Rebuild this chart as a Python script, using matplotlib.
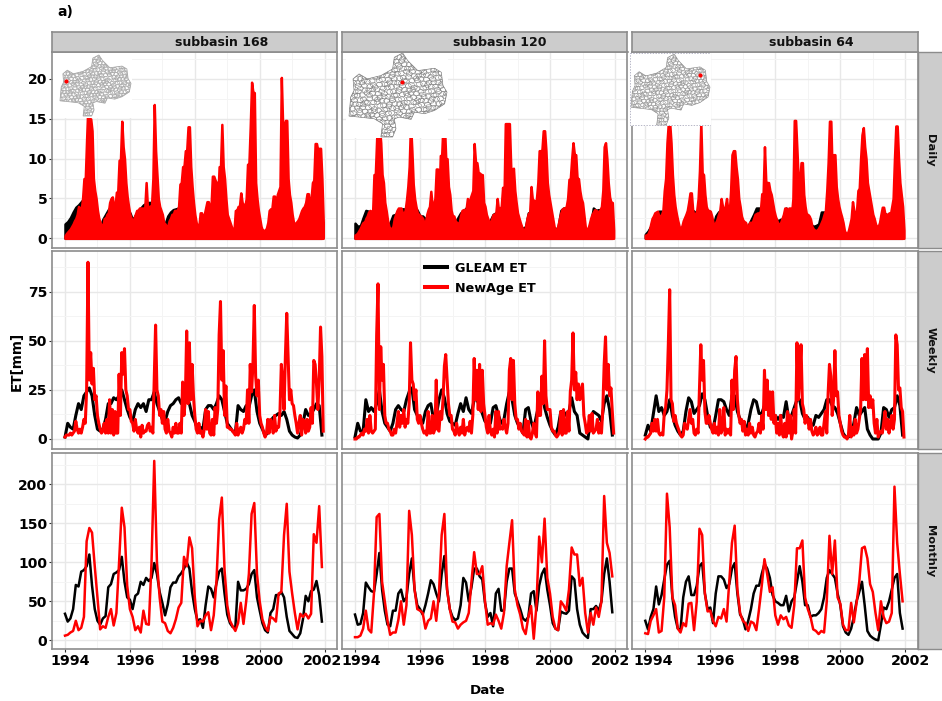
import numpy as np
import matplotlib
matplotlib.use("Agg")
import matplotlib.pyplot as plt
from matplotlib.patches import Polygon, Rectangle
from matplotlib.collections import LineCollection
from matplotlib.lines import Line2D
from matplotlib.transforms import ScaledTranslation

plt.rcParams['font.family'] = 'DejaVu Sans'
plt.rcParams['font.weight'] = 'bold'

BLACK, RED = '#000000', '#ff0000'
subbasins = ['subbasin 168', 'subbasin 120', 'subbasin 64']
scales = ['Daily', 'Weekly', 'Monthly']
year_ticks = [1994, 1996, 1998, 2000, 2002]
yticks_daily = [0, 5, 10, 15, 20]
yticks_weekly = [0, 25, 50, 75]
yticks_monthly = [0, 50, 100, 150, 200]

# ------------- Monthly ET (mm), Jan 1994 .. Dec 2001 -------------
m168_gleam = [34,24,28,40,71,69,88,90,95,110,70,40, 25,20,28,31,68,72,85,87,90,107,75,55,
              52,40,57,60,75,71,80,76,80,99,85,62, 48,32,46,68,74,74,82,86,92,100,92,62,
              40,25,27,16,45,69,66,55,73,88,92,60, 33,22,17,17,75,64,64,66,72,85,90,55,
              38,22,13,10,35,40,58,58,62,55,30,12, 8,4,3,9,27,57,50,63,65,76,58,24]
m168_newage = [6,7,10,12,25,13,16,30,127,144,138,95, 55,14,18,16,30,40,19,35,100,170,145,70,
               40,30,13,18,10,38,21,20,100,230,100,55, 24,22,12,9,16,27,42,48,107,95,132,118,
               55,18,25,24,32,36,13,32,75,155,183,90, 45,25,18,12,22,48,21,50,85,162,176,85,
               50,27,17,12,30,28,24,60,62,135,175,88, 60,35,14,34,30,34,28,34,136,125,172,94]
m120_gleam = [33,20,21,35,74,68,63,62,85,112,65,38, 20,18,38,38,60,65,50,55,85,105,65,45,
              40,33,45,60,77,72,60,50,85,108,65,40, 30,26,28,45,80,74,50,68,92,92,82,78,
              48,30,35,18,60,66,38,38,75,92,92,60, 50,40,28,25,30,60,63,38,70,85,92,65,
              45,22,15,13,37,35,34,38,82,78,40,20, 10,6,3,40,40,44,38,50,85,105,75,36]
m120_newage = [4,4,6,15,38,14,10,60,158,162,75,50, 25,7,10,10,26,50,20,45,166,135,65,40,
               38,35,15,25,28,50,25,60,135,162,65,40, 24,23,15,20,23,25,35,75,113,85,85,95,
               50,20,22,20,33,25,15,35,95,125,154,65, 45,33,15,8,30,44,2,45,133,100,156,80,
               60,30,15,13,50,45,38,65,119,110,110,70, 80,35,10,35,20,42,30,50,185,125,112,82]
m64_gleam = [25,14,30,40,69,46,58,78,97,102,55,30, 15,13,55,75,82,58,58,70,95,99,60,40,
             42,22,60,82,82,78,67,72,92,99,60,33, 27,14,25,40,60,70,70,85,98,92,80,58,
             50,48,45,45,57,37,50,55,75,95,75,45, 45,30,32,32,35,40,55,80,90,85,80,60,
             45,18,10,7,15,30,50,62,75,45,12,6, 3,1,0,20,42,40,50,65,80,85,35,15]
m64_newage = [9,8,25,32,40,10,12,55,188,145,55,45, 15,10,22,18,47,48,13,50,143,135,60,37,
              38,25,18,30,28,40,24,75,125,147,65,35, 25,22,12,24,22,13,40,70,104,85,62,68,
              32,20,32,27,30,19,16,45,118,118,128,55, 40,30,14,12,8,12,10,50,134,85,128,55,
              47,20,13,13,48,23,48,75,118,120,105,72, 62,35,13,50,30,22,24,35,197,125,85,50]

# ------------- Weekly ET (mm), read at half-month steps for NewAge, monthly for GLEAM -------------
w168_newage = [1,2,2,2,3,2,3,4,9,5,3,5,3,6,10,8,25,90,30,44,28,36,20,22,
               12,8,5,3,4,8,3,10,3,20,3,15,2,14,3,3,33,12,44,33,46,25,22,15,
               15,9,8,4,10,5,3,6,1,7,3,4,4,7,8,4,6,3,30,58,25,22,12,15,
               8,14,5,3,10,4,3,1,6,3,8,3,3,8,3,29,12,20,55,18,49,20,38,22,
               12,5,3,8,3,4,1,5,15,5,14,3,2,10,2,16,8,15,53,70,30,45,12,27,
               6,6,5,5,4,3,2,8,2,4,6,3,5,10,8,25,8,38,24,38,68,32,22,30,
               12,8,6,3,1,3,10,3,10,8,3,12,4,6,6,14,38,30,15,42,64,42,20,25,
               18,17,12,8,3,8,12,2,10,9,3,10,4,6,16,8,40,38,28,15,30,57,42,4]
w168_gleam = [1,8,6,5,12,18,15,22,24,26,22,12, 5,4,5,10,18,18,21,20,22,25,20,15,
              11,9,15,18,16,18,14,20,20,24,18,14, 10,9,14,17,18,20,21,18,20,22,18,12,
              9,5,6,5,15,17,17,15,18,22,20,14, 8,6,4,3,17,15,14,17,16,22,25,14,
              8,5,2,3,9,11,12,13,12,14,10,4, 2,1,0.5,2,8,15,12,13,15,18,17,2]
w120_newage = [0,0,1,1,2,3,2,5,4,10,3,12,4,3,4,5,53,79,15,47,30,38,12,8,
               8,5,4,2,2,5,3,8,14,6,12,8,15,6,10,8,18,49,30,28,20,25,10,8,
               12,8,5,3,4,2,14,3,3,12,3,5,30,5,4,14,10,20,37,43,30,18,12,12,
               5,4,2,8,4,2,6,3,10,2,5,6,4,9,3,12,41,20,35,15,38,14,35,18,
               12,6,3,12,4,2,5,1,14,3,14,5,6,5,10,6,3,8,35,41,20,40,18,10,
               10,5,8,4,3,2,10,1,9,1,0,3,8,3,1,24,12,12,32,18,50,22,15,15,
               15,6,4,4,2,1,2,4,14,2,15,3,3,14,4,24,30,54,25,34,20,28,20,25,
               28,12,8,3,4,12,4,13,3,4,5,10,3,8,3,15,38,52,25,38,22,26,14,3]
w120_gleam = [1,8,4,4,20,14,16,14,18,25,14,8, 6,4,8,15,17,15,14,20,24,26,15,12,
              10,8,14,17,18,10,12,20,25,21,13,9, 8,7,13,18,14,21,15,13,20,20,17,13,
              9,8,8,16,17,12,8,10,18,24,20,12, 8,6,3,15,16,9,5,12,18,25,16,11,
              7,4,2,6,14,14,12,14,21,14,12,3, 2,1,0,10,14,13,12,9,18,22,15,2]
w64_newage = [0,1,1,2,3,8,4,10,4,10,3,2,3,2,13,16,25,48,76,20,18,9,12,8,
              6,4,2,1,2,8,6,5,10,15,8,10,3,2,5,3,25,48,30,40,14,8,8,12,
              8,5,3,8,3,6,2,15,3,5,16,2,5,3,5,2,30,15,35,42,20,12,8,10,
              4,9,2,5,2,8,3,6,2,1,3,4,8,3,12,5,35,15,30,12,24,10,24,8,
              12,3,8,2,12,3,1,8,1,14,3,12,0,4,15,3,49,20,32,48,18,15,8,12,
              10,5,10,4,2,3,6,2,3,6,2,2,8,14,3,23,38,32,12,20,45,22,24,12,
              8,4,2,1,1,0,2,12,1,6,2,10,3,5,10,15,41,20,43,20,46,16,22,16,
              20,8,3,10,1,3,4,3,8,14,5,10,3,8,12,5,10,53,48,25,26,16,14,1]
w64_gleam = [2,7,4,13,22,14,16,12,14,20,12,7, 4,2,4,14,21,19,13,15,17,23,20,12,
             6,5,12,20,20,19,15,12,22,22,14,10, 8,4,8,15,20,19,13,13,17,18,15,12,
             12,10,12,11,19,10,12,16,20,20,13,10, 11,8,7,12,11,13,15,20,20,17,16,13,
             8,3,1,1,3,8,16,12,14,16,5,2, 0,0,0,3,16,15,11,15,16,22,17,2]

# ------------- Daily ET (mm/day), upper envelope of the dense daily traces -------------
d168_newage = [.3,.6,.8,1,1.2,1.5,1.8,2.2,2.5,3,4,3.8,3.6,5,7.5,7.5,12.5,17,15,15,13.5,7.5,6,5,
               3.5,2.5,2,1.5,1.5,2.5,2.5,3,3.2,4.5,5,5.2,4,4,5.8,5.8,9.8,9.8,14.7,11.5,10,7,5.2,4,
               3,2.5,2,2.5,3,3.5,3.5,3.8,3.8,3.8,3.8,3.8,7,3.8,4,4,4.2,7.5,16.8,11,8,5,4,3.5,
               3,2,1.8,1.5,1.5,2.2,2.5,3,3,3.5,3.5,3.5,4,6.8,7,9,9,11,11,14,14,9,6.5,4.5,
               3,2,1.5,1.5,3.2,3.2,2.5,3,3.8,4.6,4.6,3.8,4,7.8,7.8,7.3,7,5,9,9,14.3,9,7.5,5,
               3,2.5,2,1.5,1,1,3.5,3.5,4,4,5.7,4.5,4.2,4,5,9.3,9.3,14,19.6,18.3,18.3,7,5,3.5,
               2.5,1.5,1,1,1,1.3,2,3.5,3.7,3.7,5.3,5.3,3.5,5.5,6,6.5,20.2,14,14,14.8,14.8,7.5,5.5,4.5,
               3,2,1.8,2,2.2,2.5,3,3.5,3.8,4,4.5,5.6,5.6,3.8,5,7,7.3,11.9,11.9,11,11.3,11.3,7.5,2]
d168_gleam = [1.8,2.1,2.6,3.3,3.9,4.2,4.6,5,5,5,5,4, 1.6,1.4,2.4,3,3.6,4,4,4,5,5,4,3.5,
              3.2,2.3,2.9,3.5,3.8,4.2,4.4,4.5,4.5,5,4,3, 2,1.8,2.8,3.3,3.6,3.7,3.8,4,4.5,4.5,4,3,
              2,1.5,1.5,1.2,3,3.5,3.2,3,3.5,5,4,3, 1.8,1.2,1,1,3.4,3.3,3.2,3.3,3.5,5,5,3,
              1.5,1,.8,1,3,3.5,3.6,3.4,3.5,4,2,.8, .8,.6,.5,.8,2,3.4,3.6,3.5,3.5,3.6,3.6,2.2]
d120_newage = [.4,.5,.7,1,1.3,1.7,2,2,2.5,2.8,3.3,3.5,3.4,3.2,8,8,12.5,14,14,12,8,7,4.5,3.5,
               2.3,1.5,1.2,1.2,1.5,2.5,3,3.5,3.8,3.8,3.8,3.2,3,3.5,4.8,6.5,9,14.5,11,6.8,5,4,3.2,3,
               2.9,2.7,2.5,1.8,2,3,3.6,4,5.9,4,4.2,5,8.7,8.7,5,10.4,10.4,14.5,14.5,10,10,6.5,5.5,3.5,
               2.8,2.8,2.2,2,1.9,2,2.9,3.5,3.6,3.6,3.6,5,3.8,5,5.5,6,11.9,9.5,9.5,8.2,8.2,8,8,4.5,
               4,3,2.5,2,2,2.5,3,3,3.2,5,3.5,3.8,4,6.4,4.8,14.4,14.4,14.4,14.4,9,8,8.8,6,4.5,
               3.2,2.6,2,1.5,1,1,1.5,2.5,3.1,3.3,6.5,4.8,4.8,4,5,7,11,11,11,13.5,13.5,11,7,5.5,
               4.5,3.5,2.5,1.5,1,1,1.7,2.5,3.2,3.7,3.8,3.8,4,5,7.4,7.5,10,12,10.5,10.5,7.5,7.5,6,5,
               4.5,3,1.5,1,1.2,1.8,2.5,3,3.3,3.6,3.5,3.4,3.3,3.6,4,6,11.5,12,10,7,5.2,4.5,4.5,1]
d120_gleam = [1.9,1.5,1.6,2.6,3.5,3.4,3,3.3,3.5,4,4,3, 1.5,2,2.9,3,3.5,3.7,3.7,3.5,4,4,4,3.5,
              2.8,2.8,2.4,3,3.5,3.6,3.6,3.6,4,4,4,3.2, 2.8,2,2.6,3.2,3.4,3.8,3.8,3.6,3.8,4,3.8,3.2,
              2.4,2,2.3,3,3.2,3.4,3.3,3.3,3.5,4,3.6,3, 2,1.6,1.2,1.5,3.2,3.2,3,3,3.5,3.5,3.5,3,
              2,1.5,1,1.5,3.5,3.8,3.8,3.8,4,4,3.5,2.5, 1,.3,.3,1.8,3.8,3.5,3.6,3.4,3.5,3.8,3.6,1]
d64_newage = [.4,.4,.6,1,1.8,2.5,2.8,3.2,3.3,3.4,2.8,2.8,3,3.5,6,7.5,12,14.5,14.5,12,8,5.5,4,3,
              2.2,1.5,1.2,1.5,2.2,2.6,3,3.5,4.5,5.7,5.7,3.5,2.8,3,3.5,5,8.5,14.5,8.2,8,5.5,4,3.5,3.5,
              3.4,2.8,2,1.5,2,2.4,3,3.5,5,4,3.5,4,5,3.4,3.2,6,10.5,11,11,9,7.5,5,4,2.8,
              2.3,2.1,2,1.5,1.5,2,2,2,2.5,3,3.1,3.2,3,3.5,5.6,5.6,11.5,7,7,7,6,5.5,4.5,3.5,
              2.8,2.3,1.8,1.8,2,2.5,3,3.8,3.8,3,3.8,3.8,3,5,14.8,14.8,11,7,7,9.5,9.5,5.5,4,3,
              3,2.8,2.4,1.5,1.2,1,1,1,1.3,1.6,2,2.4,3,3.5,6,9.5,14.7,14.7,8,10.5,10.5,6.5,5,4,
              3.3,2.7,2,1,.6,.5,1,1.7,2.5,4.6,3.5,3,3.5,6,6.3,10,13,13.9,11.5,10,7,6,5,4,
              3,2.5,1.8,1.4,1.5,2,3,3.9,3.9,3,3,3,3.2,3,4,5,10,14.1,14.1,10,7,5.5,4,1]
d64_gleam = [.5,.9,1.5,2.5,3.2,3.4,3.4,3.2,3,3,3,2.5, 1,1,1.8,2.8,3.6,3.6,3.4,3,3.2,4,3.5,3,
             2,1.5,2.8,3.3,3.6,3.4,3.4,3.2,3.5,4,3,2.5, 1.9,1.5,1.6,2.3,3,3.8,3.8,3.4,3.2,3.5,3.2,2.7,
             2.5,2.2,2.4,2.4,3.8,3,3,3,3.5,4,3,2.5, 2.5,1.8,1.5,1.6,1.8,3.3,3.3,2.8,3.2,3.5,3,2.5,
             2,1,.6,.3,1,1.8,2.8,3,3.6,3.5,2,.3, .2,.1,.1,.8,3.2,3,2.6,3,3.3,3.5,3,.9]

series = {
    (0, 0): (d168_gleam, d168_newage), (0, 1): (d120_gleam, d120_newage), (0, 2): (d64_gleam, d64_newage),
    (1, 0): (w168_gleam, w168_newage), (1, 1): (w120_gleam, w120_newage), (1, 2): (w64_gleam, w64_newage),
    (2, 0): (m168_gleam, m168_newage), (2, 1): (m120_gleam, m120_newage), (2, 2): (m64_gleam, m64_newage),
}

# Map outline of the catchment for the insets
map_x = [165,190,205,235,285,305,310,322,315,285,255,225,215,180,165,170,160,125,130,105,60,30,35,45,42,60,85,125,160]
map_y = [85,72,95,125,118,130,170,190,225,245,255,250,272,265,270,300,325,325,285,270,265,262,205,185,150,135,150,140,120]

# ------------- layout in pixels -------------
W, H = 942, 701
fig = plt.figure(figsize=(W / 100, H / 100), dpi=100, facecolor='white')

def add_px(x0, y0, x1, y1, **kw):
    return fig.add_axes([x0 / W, 1 - y1 / H, (x1 - x0) / W, (y1 - y0) / H], **kw)

col_px = [(52, 337), (341.5, 627.5), (632, 918)]
row_px = [(52, 248), (251.5, 449), (452.5, 649)]
x_ref = [(65, 324.6), (355, 615), (645.3, 905.3)]
y_ref = [(238.3, 0, 79, 20), (439, 0, 291.7, 75), (640.3, 0, 484.3, 200)]
yticks = [yticks_daily, yticks_weekly, yticks_monthly]
xlabel_shift = [[5, 5, 5, 5, -2], [6, 5, 5, 4, -4], [8, 5, 5, 5, 5]]
strip_center = [222, 500, 811]
BORDER = '#8c8c8c'
GRID, GRIDM = '#e8e8e8', '#f4f4f4'

def to_data(px, p0, v0, p1, v1):
    return v0 + (px - p0) * (v1 - v0) / (p1 - p0)

axes = {}
for r, (ry0, ry1) in enumerate(row_px):
    for c, (cx0, cx1) in enumerate(col_px):
        ax = add_px(cx0, ry0, cx1, ry1)
        axes[r, c] = ax
        ax.set_facecolor('white')
        p0, p1 = x_ref[c]
        ax.set_xlim(to_data(cx0, p0, 1994, p1, 2002), to_data(cx1, p0, 1994, p1, 2002))
        a, va, b, vb = y_ref[r]
        ax.set_ylim(to_data(ry1, a, va, b, vb), to_data(ry0, a, va, b, vb))
        ax.set_xticks(year_ticks)
        ax.set_yticks(yticks[r])
        ax.set_xticks([1995, 1997, 1999, 2001], minor=True)
        step = yticks[r][1] - yticks[r][0]
        minors = [t + step / 2 for t in yticks[r]]
        ax.set_yticks([t for t in minors if t < ax.get_ylim()[1]], minor=True)
        ax.grid(True, which='major', color=GRID, lw=1.0, zorder=0)
        ax.grid(True, which='minor', color=GRIDM, lw=0.7, zorder=0)
        ax.set_axisbelow(True)
        ax.tick_params(which='minor', length=0)
        ax.tick_params(which='major', length=2, width=0.8, color='#333333', pad=1.5,
                       left=(c == 0), labelleft=(c == 0), bottom=(r == 2), labelbottom=(r == 2))
        ax.tick_params(axis='x', labelsize=10.3)
        ax.tick_params(axis='y', labelsize=10)
        if r == 2:
            for lab, dx in zip(ax.get_xticklabels(), xlabel_shift[c]):
                lab.set_transform(lab.get_transform() + ScaledTranslation(dx / 100, 0, fig.dpi_scale_trans))
        for s in ax.spines.values():
            s.set_color(BORDER)
            s.set_linewidth(1.2)

        gleam, newage = series[r, c]
        tg = 1994 + np.arange(len(gleam)) * 8 / len(gleam)
        tn = 1994 + np.arange(len(newage)) * 8 / len(newage)
        if r == 0:
            ax.fill_between(tg, 0, gleam, color=BLACK, lw=1.8, zorder=2)
            ax.fill_between(tn, 0, newage, color=RED, lw=1.8, zorder=3)
        else:
            lw = 2.2 if r == 1 else 1.8
            ax.plot(tg, gleam, color=BLACK, lw=lw, zorder=2, solid_joinstyle='round')
            ax.plot(tn, newage, color=RED, lw=lw, zorder=3, solid_joinstyle='round')

# strips
for c, (cx0, cx1) in enumerate(col_px):
    s = add_px(cx0, 32, cx1, 52)
    s.set_facecolor('#cccccc')
    s.set_xticks([]); s.set_yticks([])
    for sp in s.spines.values():
        sp.set_color(BORDER); sp.set_linewidth(1.2)
    fig.text(strip_center[c] / W, 1 - 42.5 / H, subbasins[c], ha='center', va='center',
             fontsize=9.0, fontweight='bold', color='#111111')
for r, (ry0, ry1) in enumerate(row_px):
    s = add_px(918, ry0, 943, ry1)
    s.set_facecolor('#cccccc')
    s.set_xticks([]); s.set_yticks([])
    for sp in s.spines.values():
        sp.set_color(BORDER); sp.set_linewidth(1.0)
    s.text(0.5, 0.5, scales[r], transform=s.transAxes, ha='center', va='center', rotation=-90,
           fontsize=8.2, fontweight='bold', color='#111111')

# legend
handles = [Line2D([], [], color=BLACK, lw=2.9), Line2D([], [], color=RED, lw=2.9)]
leg = axes[1, 1].legend(handles, ['GLEAM ET', 'NewAge ET'], loc='upper center',
                        bbox_to_anchor=(0.485, 1.0), frameon=False, fontsize=9.2,
                        handlelength=1.75, handletextpad=0.6, labelspacing=0.55, borderaxespad=0.4)
leg.set_zorder(10)

fig.text(57 / W, 1 - 12 / H, 'a)', fontsize=10, fontweight='bold', ha='left', va='center')
fig.text(17 / W, 1 - 361 / H, 'ET[mm]', fontsize=9.8, fontweight='bold', rotation=90, ha='center', va='center')
fig.text(488 / W, 1 - 691 / H, 'Date', fontsize=9.6, fontweight='bold', ha='center', va='center')

# map insets
def draw_map(rect, bounds, dot_px, edge, lw):
    x0, y0, x1, y1 = rect
    ia = add_px(x0, y0, x1, y1)
    ia.set_zorder(20)
    ia.set_facecolor('white')
    ia.set_xlim(x0, x1)
    ia.set_ylim(y1, y0)
    ia.set_xticks([]); ia.set_yticks([])
    for sp in ia.spines.values():
        sp.set_visible(False)
    bx0, by0, bx1, by1 = bounds
    mx = np.array(map_x, float); my = np.array(map_y, float)
    px = bx0 + (mx - mx.min()) / (mx.max() - mx.min()) * (bx1 - bx0)
    py = by0 + (my - my.min()) / (my.max() - my.min()) * (by1 - by0)
    poly = Polygon(np.c_[px, py], closed=True, fc='white', ec=edge, lw=lw * 1.3, zorder=1)
    ia.add_patch(poly)
    size = (bx1 - bx0) / 30
    segs = []
    for i in range(42):
        for j in range(44):
            cx = bx0 + i * size * 1.5 + size * 0.5 * np.sin(j * 1.9 + i * 0.7)
            cy = by0 + j * size * 1.1 + (i % 2) * size * 0.55 + size * 0.4 * np.cos(i * 2.3 + j)
            ang = np.arange(6) * np.pi / 3 + 0.35 * np.sin(i + j)
            hx = cx + size * np.cos(ang)
            hy = cy + size * 0.75 * np.sin(ang)
            segs.append(np.c_[np.r_[hx, hx[0]], np.r_[hy, hy[0]]])
    lc = LineCollection(segs, colors=edge, linewidths=lw, zorder=2)
    ia.add_collection(lc)
    lc.set_clip_path(poly)
    ia.plot([dot_px[0]], [dot_px[1]], 'o', color=RED, ms=3, mec='none', zorder=3)
    return ia

draw_map((53, 53, 132, 118), (60, 55, 131, 116), (66, 81), '#a8a8a8', 0.45)
draw_map((346, 53, 448, 138), (349, 53, 447, 137), (402, 82), '#777777', 0.35)
m3 = draw_map((630, 53, 711, 125.5), (631, 54, 710, 125), (700, 75), '#8f8f8f', 0.35)
m3.add_patch(Rectangle((630.3, 53), 80.3, 72.2, fc='none', ec='#9a9ab0', lw=0.5, ls=(0, (2, 2)), zorder=4))

fig.savefig('out.png', dpi=100)
